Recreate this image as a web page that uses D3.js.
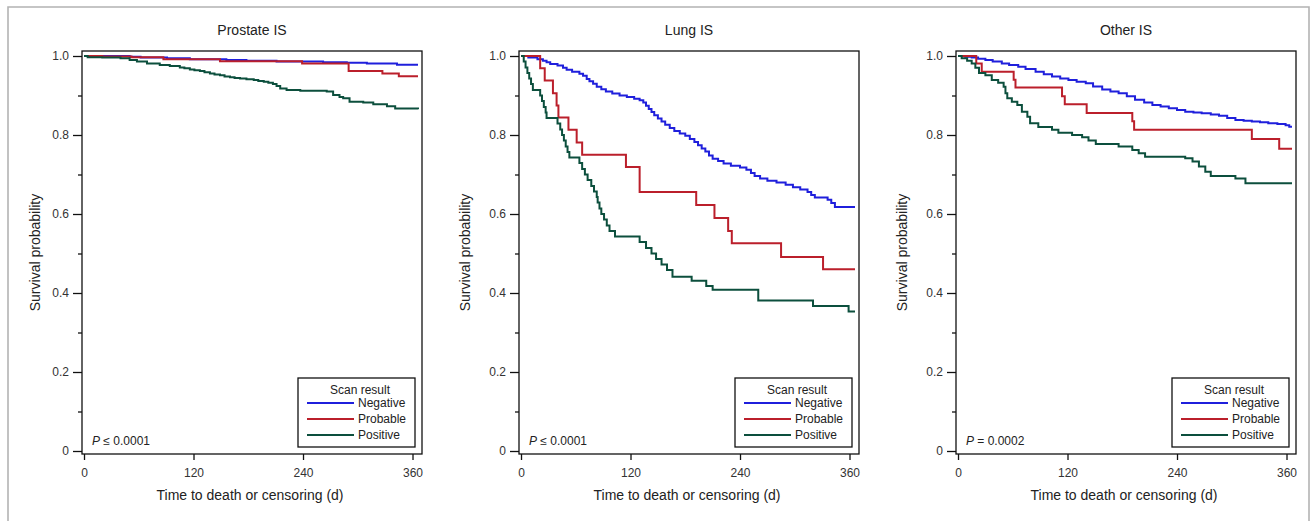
<!DOCTYPE html>
<html>
<head>
<meta charset="utf-8">
<script src="https://cdn.jsdelivr.net/npm/d3@7"></script>
<style>
  body { margin: 0; background: #fff; }
  svg { display: block; font-family: "Liberation Sans", Arial, sans-serif; }
</style>
</head>
<body>
<div class="chart"></div>
<script>
// Panel titles and P values
const panelTitles = ["Prostate IS", "Lung IS", "Other IS"];
const pValues = ["\u2264 0.0001", "\u2264 0.0001", "= 0.0002"];

// Legend
const seriesNames = ["Negative", "Probable", "Positive"];
const seriesColors = ["#1f1fdc", "#bb1f2b", "#0c4f3d"];

// Tick values
const xTicks = [0, 120, 240, 360];
const yTicks = [0, 0.2, 0.4, 0.6, 0.8, 1.0];
const yMinorTicks = [0.1, 0.3, 0.5, 0.7, 0.9];

// Kaplan-Meier curves: [day, survival probability]
const prostateNegative = [[0,1],[50,0.998],[62,0.996],[91,0.994],[116,0.992],[156,0.990],[178,0.988],[211,0.986],[262,0.984],[288,0.983],[310,0.981],[343,0.978],[366,0.978]];
const prostateProbable = [[0,1],[20,0.999],[52,0.997],[87,0.992],[149,0.987],[239,0.981],[290,0.962],[327,0.956],[345,0.949],[366,0.949]];
const prostatePositive = [[0,1],[4,0.997],[20,0.996],[40,0.994],[50,0.990],[58,0.986],[69,0.981],[83,0.977],[94,0.975],[105,0.971],[110,0.969],[116,0.966],[121,0.964],[127,0.962],[132,0.959],[138,0.956],[143,0.953],[149,0.951],[154,0.948],[160,0.946],[165,0.944],[171,0.943],[178,0.941],[186,0.939],[191,0.937],[197,0.935],[202,0.932],[207,0.929],[211,0.924],[215,0.918],[222,0.914],[237,0.912],[266,0.910],[273,0.901],[280,0.896],[284,0.893],[291,0.884],[306,0.882],[317,0.878],[332,0.873],[341,0.867],[366,0.865]];

const lungNegative = [[0,1],[8,0.996],[18,0.992],[24,0.988],[28,0.984],[32,0.980],[40,0.976],[46,0.970],[50,0.965],[56,0.960],[64,0.955],[68,0.950],[72,0.942],[75,0.936],[79,0.930],[83,0.922],[88,0.916],[93,0.910],[100,0.905],[108,0.900],[116,0.896],[124,0.892],[130,0.888],[134,0.882],[137,0.874],[140,0.866],[143,0.858],[146,0.850],[150,0.842],[154,0.834],[158,0.826],[163,0.818],[168,0.810],[174,0.804],[180,0.798],[185,0.790],[190,0.782],[194,0.774],[198,0.766],[202,0.758],[206,0.748],[210,0.740],[216,0.734],[222,0.728],[230,0.722],[240,0.718],[247,0.712],[252,0.704],[256,0.696],[262,0.690],[270,0.684],[280,0.680],[290,0.674],[298,0.668],[306,0.662],[314,0.656],[318,0.648],[322,0.642],[336,0.636],[340,0.628],[344,0.618],[366,0.618]];
const lungProbable = [[0,1],[21,0.969],[26,0.938],[35,0.906],[39,0.875],[41,0.844],[52,0.813],[61,0.781],[67,0.750],[115,0.719],[130,0.656],[192,0.623],[212,0.590],[227,0.557],[231,0.526],[285,0.491],[331,0.460],[366,0.460]];
const lungPositive = [[0,1],[3,0.986],[5,0.971],[7,0.957],[9,0.943],[11,0.929],[13,0.914],[21,0.900],[23,0.886],[25,0.871],[27,0.857],[28,0.843],[40,0.829],[43,0.814],[45,0.800],[47,0.786],[49,0.771],[51,0.757],[53,0.743],[64,0.729],[67,0.714],[70,0.700],[73,0.686],[77,0.671],[80,0.657],[83,0.643],[84,0.629],[86,0.614],[88,0.600],[91,0.586],[94,0.571],[97,0.557],[103,0.543],[130,0.529],[137,0.514],[143,0.500],[148,0.486],[154,0.472],[160,0.458],[166,0.441],[187,0.431],[203,0.418],[210,0.408],[260,0.381],[320,0.367],[359,0.353],[366,0.353]];

const otherNegative = [[0,1],[8,0.998],[15,0.996],[22,0.993],[30,0.990],[38,0.986],[48,0.981],[56,0.977],[66,0.973],[74,0.967],[85,0.960],[94,0.954],[103,0.948],[112,0.943],[121,0.939],[130,0.935],[140,0.931],[148,0.923],[158,0.915],[167,0.910],[176,0.906],[185,0.898],[194,0.889],[204,0.882],[213,0.876],[222,0.872],[231,0.868],[240,0.863],[249,0.859],[258,0.857],[267,0.855],[277,0.852],[286,0.849],[295,0.843],[304,0.838],[313,0.836],[322,0.834],[331,0.832],[340,0.830],[350,0.828],[359,0.825],[363,0.821],[366,0.821]];
const otherProbable = [[0,1],[20,0.981],[26,0.960],[61,0.940],[63,0.920],[114,0.898],[117,0.878],[141,0.856],[191,0.835],[193,0.813],[322,0.790],[352,0.765],[366,0.765]];
const otherPositive = [[0,1],[4,0.994],[10,0.988],[15,0.981],[19,0.970],[23,0.957],[30,0.951],[37,0.939],[44,0.932],[50,0.922],[52,0.906],[54,0.893],[59,0.884],[65,0.876],[70,0.859],[76,0.846],[79,0.830],[88,0.820],[103,0.813],[110,0.806],[125,0.800],[136,0.794],[143,0.786],[151,0.777],[176,0.771],[191,0.762],[198,0.754],[205,0.745],[249,0.741],[257,0.733],[264,0.720],[271,0.707],[277,0.696],[304,0.690],[315,0.678],[366,0.678]];

const panelSeries = [
  [prostateNegative, prostateProbable, prostatePositive],
  [lungNegative, lungProbable, lungPositive],
  [otherNegative, otherProbable, otherPositive]
];

// Dimensions
const svgWidth = 1310, svgHeight = 521;
const panelLefts = [82, 519, 956];
const yLabelOffsets = [-42, -49, -49];
const plotTop = 51;
const width = 340, height = 403;

const svg = d3.select(".chart")
  .append("svg")
  .attr("width", svgWidth)
  .attr("height", svgHeight);

// Outer gray frame (open at the bottom)
svg.append("path")
  .attr("d", `M8,${svgHeight} V7 H1309 V${svgHeight}`)
  .attr("fill", "none")
  .attr("stroke", "#b3b3b3")
  .attr("stroke-width", 1.6);

const x = d3.scaleLinear().domain([-2.2, 370.4]).range([0, width]);
const y = d3.scaleLinear().domain([0, 1]).range([400, 5]);

const line = d3.line()
  .curve(d3.curveStepAfter)
  .x(d => x(d[0]))
  .y(d => y(d[1]));

panelLefts.forEach((left, p) => {
  const g = svg.append("g").attr("transform", `translate(${left},${plotTop})`);

  // Title
  g.append("text")
    .attr("x", width / 2)
    .attr("y", -16)
    .attr("text-anchor", "middle")
    .attr("font-size", 14)
    .attr("fill", "#222")
    .text(panelTitles[p]);

  // Y axis major + minor ticks
  const yAxis = g.append("g")
    .call(d3.axisLeft(y).tickValues(yTicks).tickSize(9).tickPadding(4)
      .tickFormat(d => d === 0 ? "0" : d3.format(".1f")(d)));
  const yMinor = g.append("g")
    .call(d3.axisLeft(y).tickValues(yMinorTicks).tickSize(4).tickFormat(""));

  // X axis
  const xAxis = g.append("g")
    .attr("transform", `translate(0,${height})`)
    .call(d3.axisBottom(x).tickValues(xTicks).tickSize(6).tickPadding(8));

  [yAxis, yMinor, xAxis].forEach(a => {
    a.select(".domain").remove();
    a.selectAll("line").attr("stroke", "#111").attr("stroke-width", 1.3);
    a.selectAll("text")
      .attr("font-size", 12)
      .attr("fill", "#333")
      .style("font-family", '"Liberation Sans", Arial, sans-serif');
  });

  // Curves
  panelSeries[p].forEach((data, i) => {
    g.append("path")
      .datum(data)
      .attr("fill", "none")
      .attr("stroke", seriesColors[i])
      .attr("stroke-width", 2)
      .attr("d", line);
  });

  // Plot frame
  g.append("rect")
    .attr("x", 0)
    .attr("y", 0)
    .attr("width", width)
    .attr("height", height)
    .attr("fill", "none")
    .attr("stroke", "#111")
    .attr("stroke-width", 1.3);

  // Axis titles
  g.append("text")
    .attr("transform", "rotate(-90)")
    .attr("x", -height / 2)
    .attr("y", yLabelOffsets[p])
    .attr("text-anchor", "middle")
    .attr("font-size", 14)
    .attr("fill", "#222")
    .text("Survival probability");

  g.append("text")
    .attr("x", width / 2 - 2)
    .attr("y", height + 46)
    .attr("text-anchor", "middle")
    .attr("font-size", 14)
    .attr("fill", "#222")
    .text("Time to death or censoring (d)");

  // P value
  const pText = g.append("text")
    .attr("x", 10)
    .attr("y", height - 9)
    .attr("font-size", 12)
    .attr("fill", "#222");
  pText.append("tspan").attr("font-style", "italic").text("P");
  pText.append("tspan").text(" " + pValues[p]);

  // Legend
  const lg = g.append("g").attr("transform", `translate(${width - 124},${height - 76})`);
  lg.append("rect")
    .attr("width", 117)
    .attr("height", 69)
    .attr("fill", "#fff")
    .attr("stroke", "#111")
    .attr("stroke-width", 1.3);
  lg.append("text")
    .attr("x", 62)
    .attr("y", 16)
    .attr("text-anchor", "middle")
    .attr("font-size", 12)
    .attr("fill", "#222")
    .text("Scan result");
  seriesNames.forEach((name, i) => {
    const ly = 25 + i * 16;
    lg.append("line")
      .attr("x1", 9).attr("x2", 56)
      .attr("y1", ly).attr("y2", ly)
      .attr("stroke", seriesColors[i])
      .attr("stroke-width", 2);
    lg.append("text")
      .attr("x", 60)
      .attr("y", ly + 4)
      .attr("font-size", 12)
      .attr("fill", "#222")
      .text(name);
  });
});
</script>
</body>
</html>
